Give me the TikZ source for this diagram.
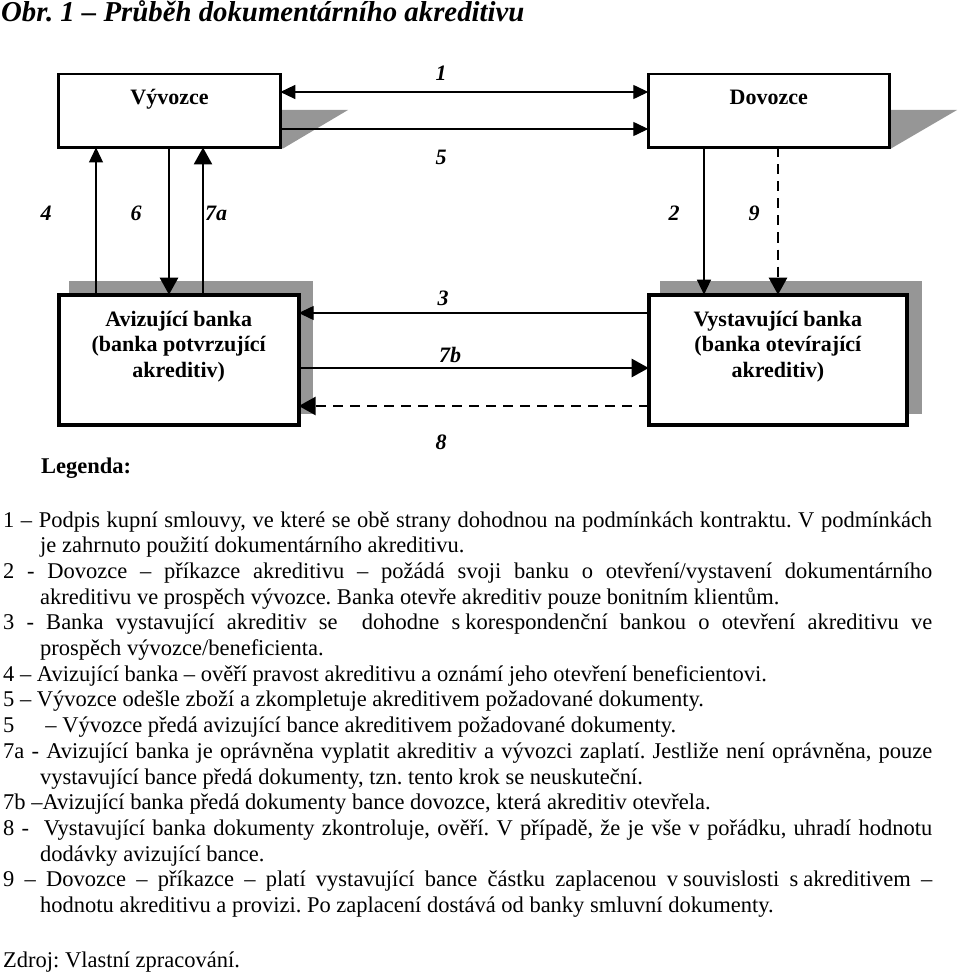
\documentclass[tikz,border=0pt]{standalone}
\usepackage{fontspec}
\setmainfont{Liberation Serif}
\usetikzlibrary{arrows.meta}
\definecolor{shd}{RGB}{150,150,150}
\frenchspacing
\tikzset{
  tipA/.tip={Triangle[width=14pt,length=15pt]},
  tipB/.tip={Triangle[width=18pt,length=17pt]},
  box/.style={draw, fill=white, line width=2.7pt, inner sep=0pt, outer sep=0pt},
  bankbox/.style={box, line width=4pt},
  boxtext/.style={font=\fontsize{22}{25.5}\selectfont\bfseries, inner sep=0pt, anchor=base},
  lab/.style={font=\fontsize{22}{26}\selectfont\bfseries\itshape, inner sep=0pt},
  thinline/.style={line width=1.3pt},
  heavyline/.style={line width=2.7pt},
  dashline/.style={line width=2.7pt, dash pattern=on 10pt off 7pt},
  leg/.style={anchor=base west, inner sep=0pt, font=\fontsize{22.5}{25.7}\selectfont},
}
\begin{document}
\begin{tikzpicture}[x=1pt,y=-1pt]
\useasboundingbox (0,0) rectangle (960,976);
% title
\node[anchor=base west, inner sep=0pt, font=\fontsize{28.8}{30}\selectfont\bfseries\itshape] (title) at (1,22) {Obr. 1 – Průběh dokumentárního akreditivu};
% shadows
\fill[shd] (260,110) -- (348,110) -- (283,148.5) -- (260,148.5) -- cycle;
\fill[shd] (870,110) -- (957,110) -- (891,148.5) -- (870,148.5) -- cycle;
\fill[shd] (69,281) rectangle (313,414);
\fill[shd] (660,281) rectangle (922,414);
% boxes
\node[box, minimum width=221.6pt, minimum height=73.5pt] (vyv) at (169.5,110.75) {};
\node[box, minimum width=240.9pt, minimum height=73.5pt] (dov) at (768.75,110.75) {};
\node[bankbox, minimum width=240pt, minimum height=129.8pt] (avi) at (178.7,359.6) {};
\node[bankbox, minimum width=258.3pt, minimum height=129.8pt] (vys) at (777.85,359.6) {};
% box texts
\node[boxtext] (vyvt) at ([yshift=-31pt]vyv.north) {Vývozce};
\node[boxtext] (dovt) at ([yshift=-31pt]dov.north) {Dovozce};
\node[boxtext] (avit) at ([yshift=-31.3pt]avi.north) {\vtop{\halign{\hfil#\hfil\cr Avizující banka\cr (banka potvrzující\cr akreditiv)\cr}}};
\node[boxtext] (vyst) at ([yshift=-31.3pt]vys.north) {\vtop{\halign{\hfil#\hfil\cr Vystavující banka\cr (banka otevírající\cr akreditiv)\cr}}};
% helper coordinates
\coordinate (c4) at ([xshift=37.3pt]vyv.south west);
\coordinate (c6) at ([xshift=110.3pt]vyv.south west);
\coordinate (c7a) at ([xshift=144.3pt]vyv.south west);
\coordinate (c2) at ([xshift=55.7pt]dov.south west);
\coordinate (c9) at ([xshift=129.7pt]dov.south west);
% connectors top
\draw[thinline, tipA-tipA] ([yshift=18.75pt]vyv.east) -- ([yshift=18.75pt]dov.west);
\draw[thinline, -tipA] ([yshift=-18.25pt]vyv.east) -- ([yshift=-18.25pt]dov.west);
% verticals
\draw[thinline, -tipA] (c4 |- avi.north) -- (c4);
\draw[heavyline, -tipB] (c6) -- (c6 |- avi.north);
\draw[heavyline, -tipB] (c7a |- avi.north) -- (c7a);
\draw[thinline, -tipA] (c2) -- (c2 |- vys.north);
\draw[dashline, -tipB] (c9) -- (c9 |- vys.north);
% horizontals bottom
\draw[thinline, -tipA] ([yshift=46.6pt]vys.west) -- ([yshift=46.6pt]avi.east);
\draw[heavyline, -tipB] ([yshift=-8.4pt]avi.east) -- ([yshift=-8.4pt]vys.west);
\draw[dashline, -tipB] ([yshift=-46.4pt]vys.west) -- ([yshift=-46.4pt]avi.east);
% labels
\node[lab] (n1) at (441,73) {1};
\node[lab] (n5) at (441,157) {5};
\node[lab] (n4) at (46,213) {4};
\node[lab] (n6) at (136,213) {6};
\node[lab] (n7a) at (216,213) {7a};
\node[lab] (n2) at (674,213) {2};
\node[lab] (n9) at (754,213) {9};
\node[lab] (n3) at (443,298) {3};
\node[lab] (n7b) at (450,355) {7b};
\node[lab] (n8) at (441,442) {8};
% legend
\node[leg, font=\fontsize{22.5}{25.7}\selectfont\bfseries] (legenda) at (41,473) {Legenda:};
\node[leg] (l1) at (3,527) {\hbox to 929pt{1 – Podpis kupní smlouvy, ve které se obě strany dohodnou na podmínkách kontraktu. V podmínkách}};
\node[leg] (l2) at (40,552.7) {je zahrnuto použití dokumentárního akreditivu.};
\node[leg] (l3) at (3,578.4) {\hbox to 929pt{2 - Dovozce – příkazce akreditivu – požádá svoji banku o otevření/vystavení dokumentárního}};
\node[leg] (l4) at (40,604.1) {akreditivu ve prospěch vývozce. Banka otevře akreditiv pouze bonitním klientům.};
\node[leg] (l5) at (3,629.8) {\hbox to 929pt{3 - Banka vystavující akreditiv se \ dohodne s\kern5pt korespondenční bankou o otevření akreditivu ve}};
\node[leg] (l6) at (40,655.5) {prospěch vývozce/beneficienta.};
\node[leg] (l7) at (3,681.2) {4 – Avizující banka – ověří pravost akreditivu a oznámí jeho otevření beneficientovi.};
\node[leg] (l8) at (3,706.9) {5 – Vývozce odešle zboží a zkompletuje akreditivem požadované dokumenty.};
\node[leg] (l9) at (3,732.6) {5\kern31pt – Vývozce předá avizující bance akreditivem požadované dokumenty.};
\node[leg] (l10) at (3,758.3) {\hbox to 929pt{7a - Avizující banka je oprávněna vyplatit akreditiv a vývozci zaplatí. Jestliže není oprávněna, pouze}};
\node[leg] (l11) at (40,784) {vystavující bance předá dokumenty, tzn. tento krok se neuskuteční.};
\node[leg] (l12) at (3,809.7) {7b –Avizující banka předá dokumenty bance dovozce, která akreditiv otevřela.};
\node[leg] (l13) at (3,835.4) {\hbox to 929pt{8 - \ Vystavující banka dokumenty zkontroluje, ověří. V případě, že je vše v pořádku, uhradí hodnotu}};
\node[leg] (l14) at (40,861.1) {dodávky avizující bance.};
\node[leg] (l15) at (3,886.8) {\hbox to 929pt{9 – Dovozce – příkazce – platí vystavující bance částku zaplacenou v\kern5pt souvislosti s\kern5pt akreditivem –}};
\node[leg] (l16) at (40,912.5) {hodnotu akreditivu a provizi. Po zaplacení dostává od banky smluvní dokumenty.};
\node[leg] (zdroj) at (3,967) {Zdroj: Vlastní zpracování.};
\end{tikzpicture}
\end{document}
